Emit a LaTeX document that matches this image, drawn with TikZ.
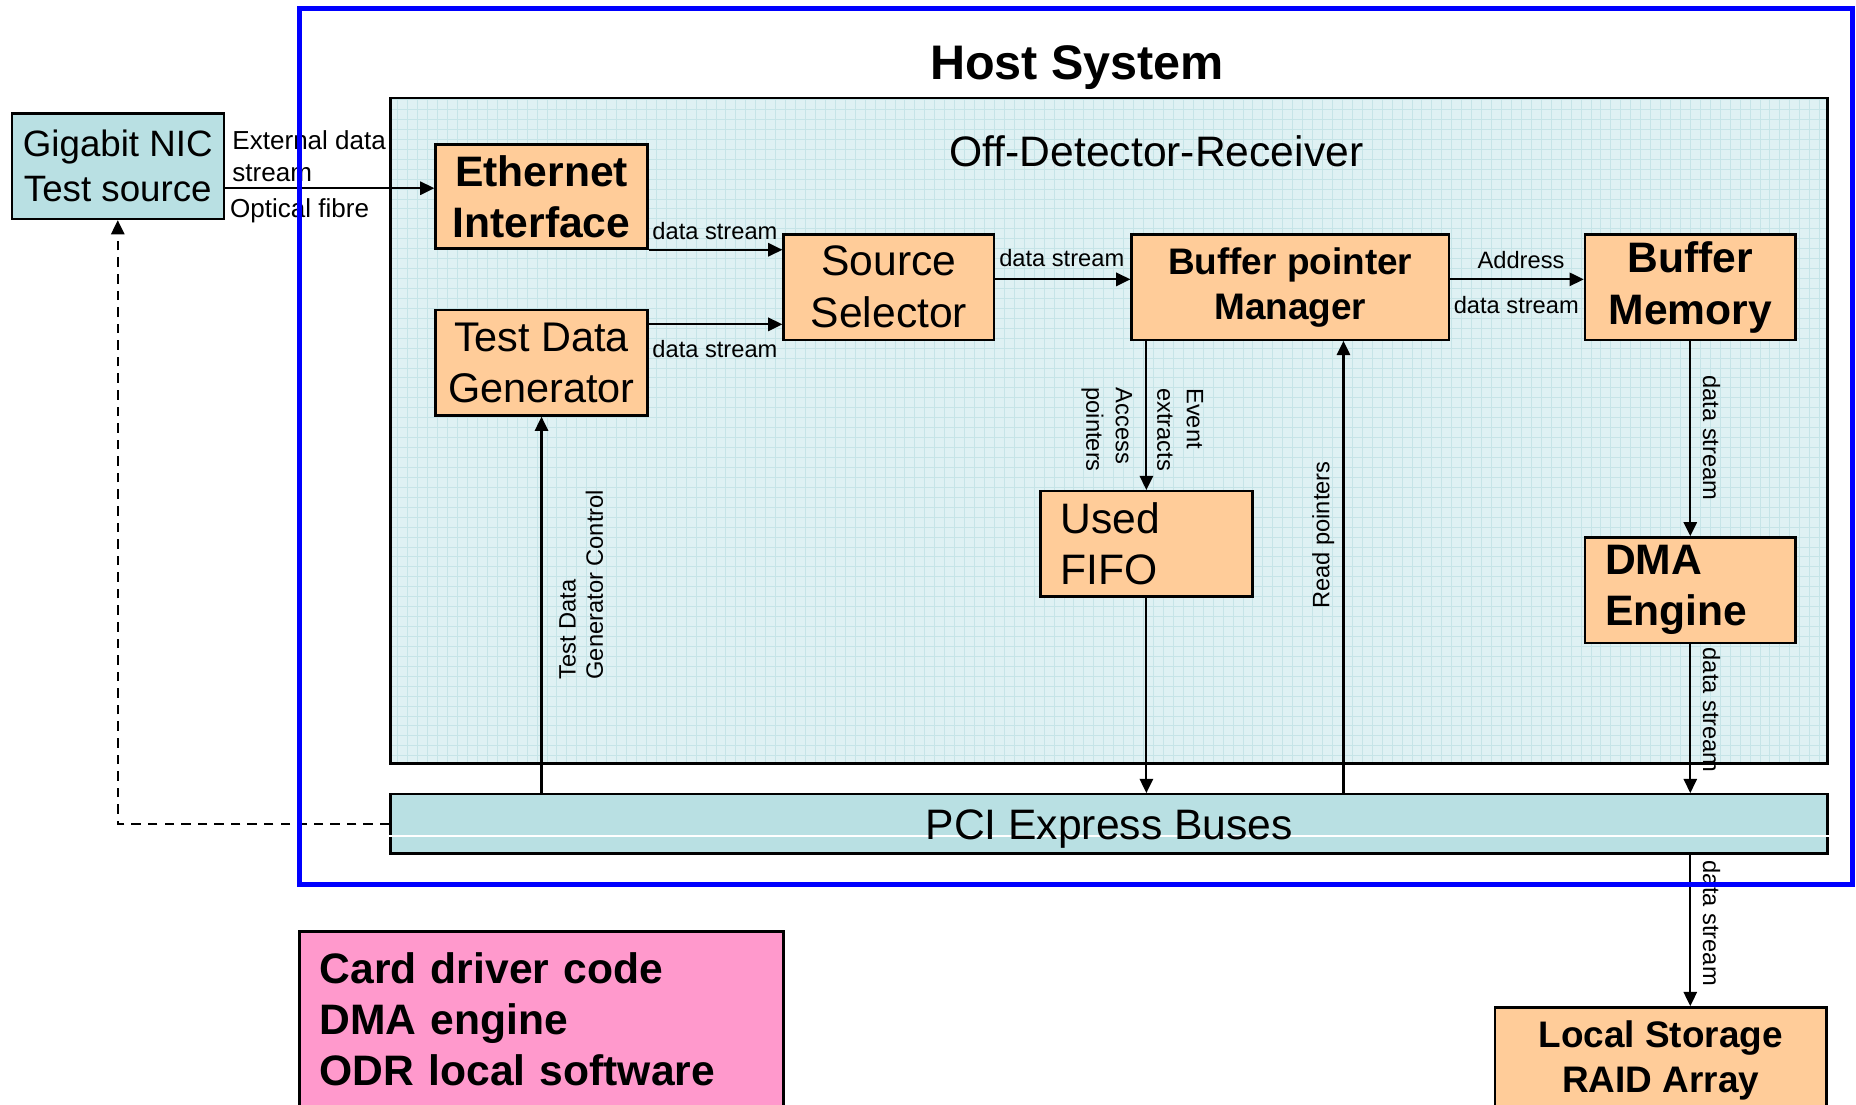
\documentclass[tikz,border=0pt]{standalone}
\usepackage{fontspec}
\setmainfont{Liberation Sans}
\usetikzlibrary{arrows.meta}

\definecolor{boxorange}{HTML}{FFCC99}
\definecolor{nicblue}{HTML}{B9E0E3}
\definecolor{odrbg}{HTML}{DFF1F3}
\definecolor{odrgrid}{HTML}{C6E4E7}
\definecolor{cardpink}{HTML}{FF99CC}
\definecolor{hostblue}{HTML}{0000FF}

\begin{document}
\begin{tikzpicture}[x=0.5pt,y=-0.5pt,
  box/.style={draw=black, line width=1pt, inner sep=0pt, align=center},
  obox/.style={box, fill=boxorange},
  flow/.style={line width=0.9pt, -{Triangle[length=6pt,width=5.6pt]}},
  lbl/.style={inner sep=0pt, font=\fontsize{10}{12.5}\selectfont},
  biglbl/.style={inner sep=0pt, font=\fontsize{11}{13.5}\selectfont},
  txtbig/.style={font=\fontsize{18}{21.5}\selectfont},
  txtbigb/.style={font=\bfseries\fontsize{18}{21.5}\selectfont},
  txtmidb/.style={font=\bfseries\fontsize{15.6}{19}\selectfont},
]
\useasboundingbox (0,0) rectangle (1568,933);
\clip (0,0) rectangle (1568,933);
\fill[white] (0,0) rectangle (1568,933);

% Off-Detector-Receiver board: tinted panel with a fine grid
\fill[odrbg] (330,83) rectangle (1544,645);
\begin{scope}
  \clip (330,83) rectangle (1544,645);
  \draw[odrgrid, line width=0.3pt, step=4.2pt] (330,645) grid (1544,83);
\end{scope}
\node[draw=black, line width=1pt, minimum width=607pt, minimum height=281pt, inner sep=0pt] (odr) at (937,364) {};
\node[inner sep=0pt, txtbig] (odrtitle) at (977,128) {Off-Detector-Receiver};

% Host system title
\node[inner sep=0pt, font=\bfseries\fontsize{20.5}{24}\selectfont] (hosttitle) at (910,57) {Host System};

% External test source
\node[box, fill=nicblue, minimum width=89.5pt, minimum height=44.5pt,
      font=\fontsize{15.5}{19}\selectfont] (nic) at (99.5,140.5) {Gigabit NIC\\Test source};

% Receiver blocks
\node[obox, minimum width=89.5pt, minimum height=44pt, txtbigb] (eth) at (457.5,166) {Ethernet\\Interface};
\node[obox, minimum width=89.5pt, minimum height=44.5pt, font=\fontsize{17.5}{21.5}\selectfont] (tdg) at (457.5,306.5) {Test Data\\Generator};
\node[obox, minimum width=89pt, minimum height=44.5pt, font=\fontsize{18}{22}\selectfont] (ss) at (751,242.5) {Source\\Selector};
\node[obox, minimum width=134pt, minimum height=44.5pt, txtmidb] (bpm) at (1090,242.5) {Buffer pointer\\Manager};
\node[obox, minimum width=89pt, minimum height=44.5pt, font=\bfseries\fontsize{18}{22}\selectfont] (bm) at (1428,242.5) {Buffer\\Memory};
\node[obox, minimum width=89.5pt, minimum height=44.5pt, text width=72.5pt, inner xsep=8.5pt, align=left, txtbig] (fifo) at (968.5,459.5) {Used\\FIFO};
\node[obox, minimum width=89pt, minimum height=44.5pt, text width=72pt, inner xsep=8.5pt, align=left, txtbigb] (dma) at (1428,498.5) {DMA\\Engine};

% PCI Express bus bar
\node[box, fill=nicblue, minimum width=607pt, minimum height=25pt] (pci) at (937,696) {};
\draw[white, line width=0.7pt] (pci.west |- 0,706) -- (pci.east |- 0,706);
\node[inner sep=0pt, txtbig] (pcitext) at (937,700) {PCI Express Buses};

% Software and storage outside the host
\node[box, fill=cardpink, minimum width=204.5pt, minimum height=74pt, text width=187.5pt, inner xsep=8.5pt, align=left, txtbigb] (card) at (457.5,861) {Card driver code\\DMA engine\\ODR local software};
\node[obox, minimum width=140pt, minimum height=45pt, txtmidb] (ls) at (1403,896) {Local Storage\\RAID Array};

% Data paths
\draw[flow] (nic.east |- 0,159) -- (eth.west |- 0,159);
\draw[flow] (eth.south east) -- (ss.west |- eth.south east);
\draw[flow] (tdg.east |- 0,274) -- (ss.west |- 0,274);
\draw[flow] (ss.east |- 0,236) -- (bpm.west |- 0,236);
\draw[flow] (bpm.east |- 0,236) -- (bm.west |- 0,236);
\draw[flow] (bpm.south -| fifo.north) -- (fifo.north);
\draw[flow] (fifo.south) -- (fifo.south |- pci.north);
\draw[flow] (pci.north -| 1135,0) -- (bpm.south -| 1135,0);
\draw[flow] (bm.south) -- (dma.north);
\draw[flow] (dma.south) -- (dma.south |- pci.north);
\draw[flow] (pci.south -| bm.south) -- (ls.north -| bm.south);
\draw[flow] (pci.north -| tdg.south) -- (tdg.south);
\draw[line width=0.9pt, dash pattern=on 4pt off 3pt, -{Triangle[length=6pt,width=5.6pt]}]
  (pci.west) -- (nic.south |- pci.west) -- (nic.south);

% Connector labels
\node[biglbl, anchor=west, align=left] (extlbl) at (196,132) {External data\\stream};
\node[biglbl, anchor=west] (optlbl) at (194,178) {Optical fibre};
\node[lbl] (ds1) at (604,195) {data stream};
\node[lbl] (ds2) at (604,295) {data stream};
\node[lbl] (ds3) at (897,218) {data stream};
\node[lbl] (addr) at (1285,220) {Address};
\node[lbl] (ds4) at (1281,258) {data stream};
\node[lbl, rotate=-90, align=left] (acc) at (935,363) {Access\\pointers};
\node[lbl, rotate=-90, align=left] (evt) at (997,363) {Event\\extracts};
\node[lbl, rotate=90] (rdp) at (1118,452) {Read pointers};
\node[lbl, rotate=90, align=left, font=\fontsize{10}{11.5}\selectfont] (tdgc) at (491,494) {Test Data\\Generator Control};
\node[lbl, rotate=-90] (ds5) at (1446,370) {data stream};
\node[lbl, rotate=-90] (ds6) at (1446,600) {data stream};
\node[lbl, rotate=-90] (ds7) at (1446,780) {data stream};

% Host system boundary
\node[draw=hostblue, line width=2.2pt, minimum width=656pt, minimum height=370pt, inner sep=0pt] (host) at (909,377) {};
\end{tikzpicture}
\end{document}
